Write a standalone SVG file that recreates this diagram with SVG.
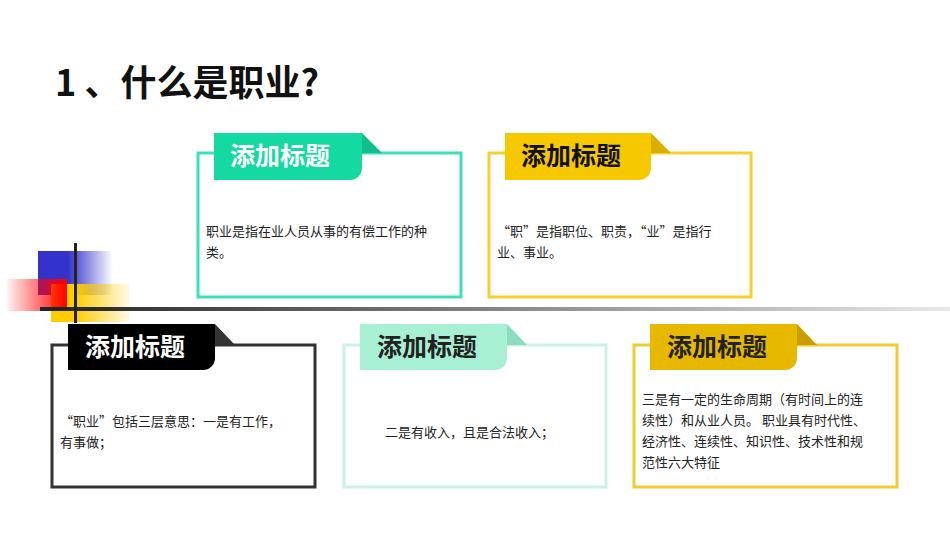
<svg xmlns="http://www.w3.org/2000/svg" width="950" height="535" viewBox="0 0 950 535">
<style>
text{font-family:"Noto Sans CJK SC","Liberation Sans",sans-serif}
.t{font-size:25px;font-weight:bold}
.b{font-size:13px;fill:#222}
.box{fill:#fff;stroke-width:3}
</style>
<defs>
<linearGradient id="gb" x1="0" x2="1"><stop offset="0.4" stop-color="#3333cc"/><stop offset="1" stop-color="#3333cc" stop-opacity="0"/></linearGradient>
<linearGradient id="gr" x1="0" x2="1"><stop offset="0" stop-color="#ff0000" stop-opacity="0.05"/><stop offset="1" stop-color="#ff0000"/></linearGradient>
<linearGradient id="gy" x1="0" x2="1"><stop offset="0.3" stop-color="#ffcc00"/><stop offset="1" stop-color="#ffcc00" stop-opacity="0.1"/></linearGradient>
<linearGradient id="gl" x1="0" x2="1"><stop offset="0" stop-color="#222"/><stop offset="1" stop-color="#222" stop-opacity="0.1"/></linearGradient>
</defs>
<rect width="950" height="535" fill="#fff"/>
<text x="55" y="96" font-size="36" font-weight="bold" fill="#111">1 、什么是职业?</text>
<g id="decor">
<rect x="38" y="251" width="75" height="44" fill="url(#gb)"/>
<rect x="51" y="284" width="78" height="38" fill="url(#gy)"/>
<rect x="7" y="279" width="60" height="32" fill="url(#gr)"/>
<rect x="40" y="307" width="910" height="4" fill="url(#gl)"/>
<rect x="74" y="243" width="3" height="80" fill="#222"/>
</g>
<g id="n1">
<rect class="box" x="198" y="153" width="263" height="144" stroke="#3de0b8"/>
<path d="M214 133H362V168A12 12 0 0 1 350 180H214Z" fill="#14d9a0"/>
<path d="M362 133L382 153H362Z" fill="#0fbf8c"/>
<text class="t" x="230" y="165" fill="#fff">添加标题</text>
<text class="b" x="206" y="236">职业是指在业人员从事的有偿工作的种</text>
<text class="b" x="206" y="257">类。</text>
</g>
<g id="n2">
<rect class="box" x="489" y="153" width="262" height="144" stroke="#f5d130"/>
<path d="M505 133H651V168A12 12 0 0 1 639 180H505Z" fill="#f5c800"/>
<path d="M651 133L671 153H651Z" fill="#d9ae00"/>
<text class="t" x="521" y="165" fill="#111">添加标题</text>
<text class="b" x="497" y="236">“职”是指职位、职责，“业”是指行</text>
<text class="b" x="497" y="257">业、事业。</text>
</g>
<g id="n3">
<rect class="box" x="52" y="345" width="263" height="142" stroke="#333"/>
<path d="M68 324H215V358A12 12 0 0 1 203 370H68Z" fill="#000"/>
<path d="M215 324L235 345H215Z" fill="#333"/>
<text class="t" x="85" y="356" fill="#fff">添加标题</text>
<text class="b" x="60" y="426">“职业”包括三层意思：一是有工作，</text>
<text class="b" x="60" y="447">有事做；</text>
</g>
<g id="n4">
<rect class="box" x="344" y="345" width="262" height="142" stroke="#c8f3e4"/>
<path d="M360 324H507V358A12 12 0 0 1 495 370H360Z" fill="#a8f0d4"/>
<path d="M507 324L527 345H507Z" fill="#8ddcc0"/>
<text class="t" x="377" y="356" fill="#222">添加标题</text>
<text class="b" x="385" y="437">二是有收入，且是合法收入；</text>
</g>
<g id="n5">
<rect class="box" x="634" y="345" width="263" height="142" stroke="#f0cc30"/>
<path d="M650 324H797V358A12 12 0 0 1 785 370H650Z" fill="#e6b800"/>
<path d="M797 324L817 345H797Z" fill="#c99e00"/>
<text class="t" x="667" y="356" fill="#222">添加标题</text>
<text class="b" x="642" y="404">三是有一定的生命周期（有时间上的连</text>
<text class="b" x="642" y="425">续性）和从业人员。 职业具有时代性、</text>
<text class="b" x="642" y="446">经济性、连续性、知识性、技术性和规</text>
<text class="b" x="642" y="467">范性六大特征</text>
</g>
</svg>
